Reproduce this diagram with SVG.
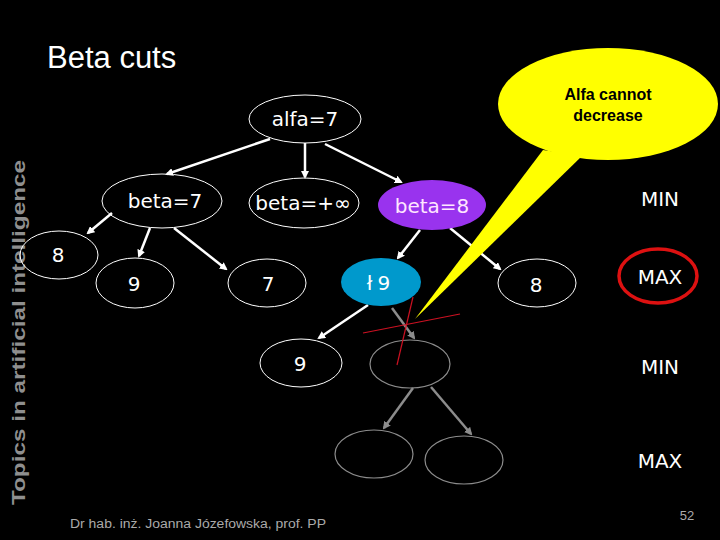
<svg xmlns="http://www.w3.org/2000/svg" width="720" height="540" viewBox="0 0 720 540">
<style>
.n{fill:none;stroke:#fff;stroke-width:1}
.g{fill:none;stroke:#8c8c8c;stroke-width:1.2}
.t{font-family:"DejaVu Sans",sans-serif;font-size:20px;fill:#fff;text-anchor:middle}
.c{stroke:#fff;stroke-width:2.5;fill:none;marker-end:url(#aw)}
.cg{stroke:#8c8c8c;stroke-width:2.5;fill:none;marker-end:url(#ag)}
</style>
<defs>
<marker id="aw" markerWidth="8" markerHeight="8" refX="6" refY="4" orient="auto" markerUnits="userSpaceOnUse"><path d="M0,0 L8,4 L0,8 z" fill="#fff"/></marker>
<marker id="ag" markerWidth="8" markerHeight="8" refX="6" refY="4" orient="auto" markerUnits="userSpaceOnUse"><path d="M0,0 L8,4 L0,8 z" fill="#8c8c8c"/></marker>
</defs>
<rect width="720" height="540" fill="#000"/>
<text x="47" y="68" font-family="Liberation Sans, Arial, sans-serif" font-size="31" fill="#fff">Beta cuts</text>
<text transform="translate(25,505) rotate(-90)" font-family="Liberation Sans, Arial, sans-serif" font-size="18" font-weight="bold" fill="#8f8f8f" textLength="345" lengthAdjust="spacingAndGlyphs">Topics in artificial intelligence</text>

<g id="connectors">
<line class="c" x1="270" y1="139" x2="167" y2="174"/>
<line class="c" x1="305" y1="143" x2="305" y2="177"/>
<line class="c" x1="325" y1="144" x2="401" y2="182"/>
<line class="c" x1="112" y1="213" x2="88" y2="233"/>
<line class="c" x1="150" y1="228" x2="139" y2="256"/>
<line class="c" x1="174" y1="228" x2="226" y2="269"/>
<line class="c" x1="420" y1="230" x2="398" y2="258"/>
<line class="c" x1="450" y1="228" x2="500" y2="269"/>
<line class="c" x1="368" y1="305" x2="319" y2="338"/>
<line class="cg" x1="392" y1="308" x2="414" y2="338"/>
<line class="cg" x1="413" y1="388" x2="384" y2="428"/>
<line class="cg" x1="431" y1="387" x2="471" y2="434"/>
</g>

<g id="alfa7"><ellipse class="n" cx="305" cy="119" rx="56" ry="24"/><text class="t" x="305" y="126">alfa=7</text></g>
<g id="beta7"><ellipse class="n" cx="162" cy="201" rx="60" ry="27"/><text class="t" x="165" y="208">beta=7</text></g>
<g id="betaInf"><ellipse class="n" cx="304" cy="203" rx="55" ry="25"/><text class="t" x="303" y="210">beta=+∞</text></g>
<g id="beta8"><ellipse cx="432" cy="205" rx="54" ry="25" fill="#9933ee"/><text class="t" x="432" y="213" style="fill:#ffe6ff">beta=8</text></g>
<g id="leaf8a"><ellipse class="n" cx="59" cy="255" rx="39" ry="24"/><text class="t" x="58" y="262">8</text></g>
<g id="leaf9a"><ellipse class="n" cx="135" cy="283" rx="39" ry="25"/><text class="t" x="134" y="291">9</text></g>
<g id="leaf7"><ellipse class="n" cx="267" cy="283" rx="39" ry="24"/><text class="t" x="268" y="291">7</text></g>
<g id="node19"><ellipse cx="381" cy="282" rx="40" ry="24" fill="#0099cc"/><text class="t" x="381" y="290" letter-spacing="5">ł9</text></g>
<g id="leaf8b"><ellipse class="n" cx="537" cy="283" rx="39" ry="24"/><text class="t" x="536" y="292">8</text></g>
<g id="leaf9b"><ellipse class="n" cx="301" cy="363" rx="41" ry="24"/><text class="t" x="300" y="371">9</text></g>
<g id="grayA"><ellipse class="g" cx="410" cy="364" rx="40" ry="24"/></g>
<g id="grayB"><ellipse class="g" cx="374" cy="454" rx="39" ry="24"/></g>
<g id="grayC"><ellipse class="g" cx="464" cy="460" rx="39" ry="24"/></g>

<g id="cut">
<line x1="363" y1="333" x2="460" y2="314" stroke="#cc1122" stroke-width="1.2"/>
<line x1="413" y1="297" x2="397" y2="365" stroke="#cc1122" stroke-width="1.2"/>
</g>

<g id="callout">
<path d="M543,150 L415,319 L582,156 Z" fill="#ffff00"/>
<ellipse cx="608" cy="104" rx="110" ry="56" fill="#ffff00"/>
<text x="608" y="100" font-family="Liberation Sans, Arial, sans-serif" font-size="16" font-weight="bold" fill="#000" text-anchor="middle">Alfa cannot</text>
<text x="608" y="121" font-family="Liberation Sans, Arial, sans-serif" font-size="16" font-weight="bold" fill="#000" text-anchor="middle">decrease</text>
</g>

<g id="levels">
<text class="t" x="660" y="206">MIN</text>
<ellipse cx="658" cy="276" rx="39" ry="27" fill="none" stroke="#dd1111" stroke-width="3.5"/>
<text class="t" x="660" y="284">MAX</text>
<text class="t" x="660" y="374">MIN</text>
<text class="t" x="660" y="468">MAX</text>
</g>

<text x="70" y="528" font-family="Liberation Sans Narrow, Liberation Sans, Arial, sans-serif" font-size="12" fill="#aaa" textLength="256" lengthAdjust="spacingAndGlyphs">Dr hab. inż. Joanna Józefowska, prof. PP</text>
<text x="687" y="520" font-family="Liberation Sans Narrow, Liberation Sans, Arial, sans-serif" font-size="13" fill="#aaa" text-anchor="middle">52</text>
</svg>
